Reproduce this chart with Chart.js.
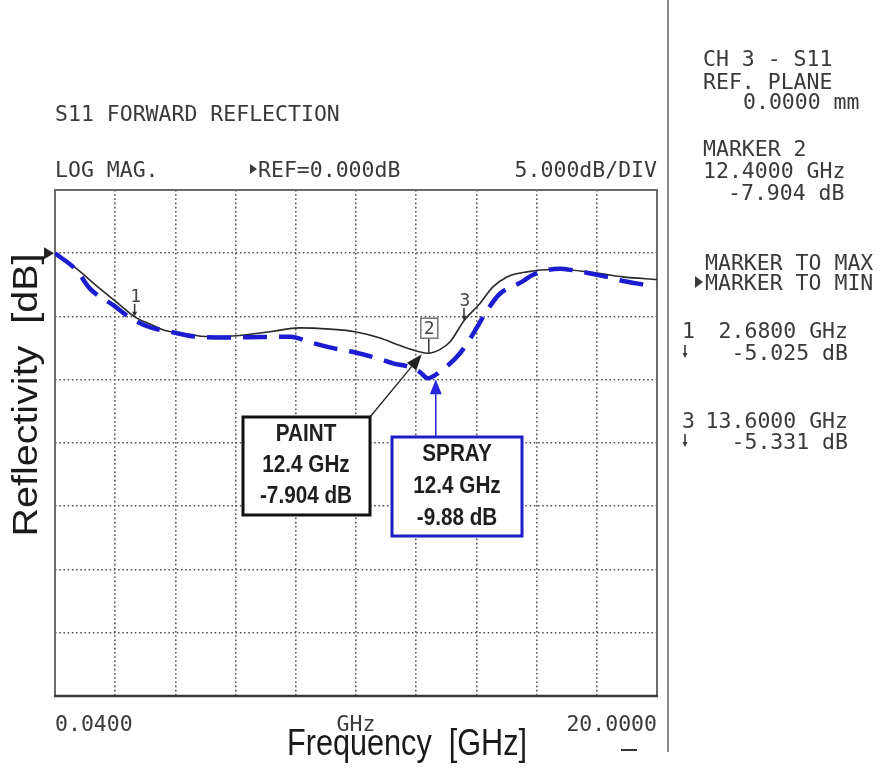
<!DOCTYPE html>
<html>
<head>
<meta charset="utf-8">
<script src="https://cdn.jsdelivr.net/npm/chart.js@4.4.0/dist/chart.umd.min.js"></script>
<style>
  html, body { margin: 0; padding: 0; background: #ffffff; }
  #wrap { width: 880px; height: 773px; position: relative; }
</style>
</head>
<body>
<div id="wrap"><canvas id="c" width="880" height="773"></canvas></div>
<script>
// Sweep and display scale of the analyzer screen
const freqStart = 0.04;      // GHz
const freqStop = 20.0;       // GHz
const xDivisions = 10;
const dbTop = 5;
const dbBottom = -35;
const dbPerDiv = 5;
const refLevel = 0;

// S11 of the painted sample (black trace)
const paintFreq = [0.04, 0.64, 1.53, 2.20, 2.68, 3.19, 3.69, 4.18, 5.18, 6.17,
                   7.17, 8.16, 9.16, 9.99, 10.82, 11.48, 12.14, 12.40, 12.81, 13.14,
                   13.60, 14.13, 14.56, 15.03, 15.69, 16.55, 17.21, 18.11, 18.87, 20.00];
const paintDb = [0.0, -1.0, -2.8, -4.1, -5.025, -5.6, -6.1, -6.3, -6.6, -6.5,
                 -6.2, -5.9, -6.0, -6.2, -6.7, -7.3, -7.8, -7.904, -7.6, -7.0,
                 -5.331, -3.97, -2.66, -1.87, -1.47, -1.29, -1.34, -1.6, -1.87, -2.08];

// S11 of the sprayed sample (blue dashed trace)
const sprayFreq = [0.04, 0.76, 1.20, 2.03, 2.47, 3.19, 3.85, 4.75, 5.78, 6.84,
                   7.83, 8.59, 9.26, 9.82, 10.72, 11.25, 11.80, 12.14, 12.40, 12.81,
                   13.47, 13.87, 14.40, 14.79, 15.29, 15.56, 15.89, 16.78, 17.21, 18.34,
                   18.77, 19.67];
const sprayDb = [0.0, -1.36, -2.8, -4.2, -5.0, -5.85, -6.2, -6.6, -6.66, -6.63,
                 -6.6, -7.1, -7.5, -7.75, -8.3, -8.7, -9.0, -9.4, -9.88, -9.35,
                 -7.9, -6.5, -4.4, -3.2, -2.55, -2.2, -1.7, -1.22, -1.34, -1.87,
                 -2.13, -2.53];

// Analyzer markers placed on the painted trace
const markerIds = ['1', '2', '3'];
const markerFreq = [2.68, 12.4, 13.6];
const markerDb = [-5.025, -7.904, -5.331];

// Callouts at the marker-2 frequency
const calloutFreq = 12.4;
const paintCalloutDb = -7.904;
const sprayCalloutDb = -9.88;

const MONO = '21.5px "DejaVu Sans Mono", "Liberation Mono", monospace';
const INK = '#3a3a3a';
const BLUE = 'rgb(28,28,208)';

function txt(ctx, s, x, y, o = {}) {
  ctx.save();
  ctx.font = o.font || MONO;
  ctx.fillStyle = o.color || INK;
  ctx.textBaseline = o.baseline || 'alphabetic';
  ctx.textAlign = 'left';
  const w = ctx.measureText(s).width;
  const sx = o.width ? o.width / w : (o.sx || 1);
  const sy = o.sy || 1;
  let x0 = x;
  if (o.align === 'center') x0 = x - w * sx / 2;
  else if (o.align === 'right') x0 = x - w * sx;
  ctx.translate(x0, y);
  ctx.scale(sx, sy);
  ctx.fillText(s, 0, 0);
  ctx.restore();
}

function triRight(ctx, xTip, yc, len, half, color) {
  ctx.save();
  ctx.fillStyle = color;
  ctx.beginPath();
  ctx.moveTo(xTip, yc);
  ctx.lineTo(xTip - len, yc - half);
  ctx.lineTo(xTip - len, yc + half);
  ctx.closePath();
  ctx.fill();
  ctx.restore();
}

function arrow(ctx, x1, y1, x2, y2, color, width, headLen, headHalf) {
  const a = Math.atan2(y2 - y1, x2 - x1);
  ctx.save();
  ctx.strokeStyle = color;
  ctx.fillStyle = color;
  ctx.lineWidth = width;
  ctx.beginPath();
  ctx.moveTo(x1, y1);
  ctx.lineTo(x2 - Math.cos(a) * headLen * 0.8, y2 - Math.sin(a) * headLen * 0.8);
  ctx.stroke();
  ctx.beginPath();
  ctx.moveTo(x2, y2);
  ctx.lineTo(x2 - Math.cos(a) * headLen - Math.sin(a) * headHalf, y2 - Math.sin(a) * headLen + Math.cos(a) * headHalf);
  ctx.lineTo(x2 - Math.cos(a) * headLen + Math.sin(a) * headHalf, y2 - Math.sin(a) * headLen - Math.cos(a) * headHalf);
  ctx.closePath();
  ctx.fill();
  ctx.restore();
}

function smallDown(ctx, x, yc) {
  ctx.save();
  ctx.strokeStyle = INK;
  ctx.fillStyle = INK;
  ctx.lineWidth = 1.6;
  ctx.beginPath();
  ctx.moveTo(x, yc - 7);
  ctx.lineTo(x, yc + 2);
  ctx.stroke();
  ctx.beginPath();
  ctx.moveTo(x - 2.5, yc + 1);
  ctx.lineTo(x + 2.5, yc + 1);
  ctx.lineTo(x, yc + 6);
  ctx.closePath();
  ctx.fill();
  ctx.restore();
}

function calloutBox(ctx, x, y, w, h, color, lines, lineYs, cx) {
  ctx.save();
  ctx.fillStyle = '#ffffff';
  ctx.fillRect(x, y, w, h);
  ctx.strokeStyle = color;
  ctx.lineWidth = 3;
  ctx.strokeRect(x, y, w, h);
  ctx.restore();
  lines.forEach((s, i) => {
    txt(ctx, s, cx, lineYs[i], { font: 'bold 23px "Liberation Sans", Arial, sans-serif', color: '#1e1e1e', align: 'center', sx: 0.9 });
  });
}

const screenPlugin = {
  id: 'screen',
  beforeDatasetsDraw(chart) {
    const { ctx, chartArea: a } = chart;
    ctx.save();
    ctx.strokeStyle = '#6a6a6a';
    ctx.lineWidth = 2;
    ctx.beginPath();
    ctx.moveTo(a.left, a.bottom);
    ctx.lineTo(a.left, a.top);
    ctx.lineTo(a.right, a.top);
    ctx.lineTo(a.right, a.bottom);
    ctx.stroke();
    ctx.strokeStyle = '#3a3a3a';
    ctx.lineWidth = 2.5;
    ctx.beginPath();
    ctx.moveTo(a.left - 1, a.bottom);
    ctx.lineTo(a.right + 1, a.bottom);
    ctx.stroke();
    ctx.restore();
  },
  afterDraw(chart) {
    const { ctx, chartArea: a } = chart;
    const xs = chart.scales.x, ys = chart.scales.y;

    // header lines
    txt(ctx, 'S11 FORWARD REFLECTION', 55, 121);
    txt(ctx, 'LOG MAG.', 55, 177);
    triRight(ctx, 257, 169, 7, 5, INK);
    txt(ctx, 'REF=' + refLevel.toFixed(3) + 'dB', 258, 177);
    txt(ctx, dbPerDiv.toFixed(3) + 'dB/DIV', a.right, 177, { align: 'right' });

    // reference level pointer
    triRight(ctx, a.left - 1, ys.getPixelForValue(refLevel), 10, 6, '#222');

    // frequency annotations
    txt(ctx, freqStart.toFixed(4), 55, 731);
    txt(ctx, 'GHz', 356, 731, { align: 'center' });
    txt(ctx, freqStop.toFixed(4), a.right, 731, { align: 'right' });

    // axis titles
    txt(ctx, 'Frequency  [GHz]', 407, 755, { font: '37px "Liberation Sans", Arial, sans-serif', color: '#1a1a1a', align: 'center', width: 240 });
    ctx.save();
    ctx.translate(37, 395);
    ctx.rotate(-Math.PI / 2);
    txt(ctx, 'Reflectivity  [dB]', 0, 0, { font: '35px "Liberation Sans", Arial, sans-serif', color: '#1a1a1a', align: 'center', width: 283 });
    ctx.restore();

    // short dash bottom right
    ctx.save();
    ctx.strokeStyle = '#333';
    ctx.lineWidth = 2;
    ctx.beginPath();
    ctx.moveTo(621, 750);
    ctx.lineTo(637, 750);
    ctx.stroke();
    // panel separator
    ctx.strokeStyle = '#8c8c8c';
    ctx.lineWidth = 2;
    ctx.beginPath();
    ctx.moveTo(668, 0);
    ctx.lineTo(668, 752);
    ctx.stroke();
    ctx.restore();

    // markers on the trace
    const mFont = '18px "DejaVu Sans Mono", monospace';
    markerIds.forEach((id, i) => {
      const px = xs.getPixelForValue(markerFreq[i]);
      const py = ys.getPixelForValue(markerDb[i]);
      ctx.save();
      ctx.strokeStyle = '#333';
      ctx.fillStyle = '#333';
      ctx.lineWidth = 1.5;
      if (id === '2') {
        ctx.beginPath();
        ctx.moveTo(px + 1, py - 16);
        ctx.lineTo(px + 1, py);
        ctx.stroke();
        ctx.fillStyle = '#ffffff';
        ctx.fillRect(px - 7, py - 35, 17, 20);
        ctx.strokeStyle = '#777';
        ctx.strokeRect(px - 7, py - 35, 17, 20);
        ctx.restore();
        txt(ctx, id, px + 1.5, py - 19, { font: mFont, color: '#444', align: 'center' });
      } else {
        ctx.beginPath();
        ctx.moveTo(px, py - 13);
        ctx.lineTo(px, py - 4);
        ctx.stroke();
        ctx.beginPath();
        ctx.moveTo(px - 2.5, py - 5);
        ctx.lineTo(px + 2.5, py - 5);
        ctx.lineTo(px, py);
        ctx.closePath();
        ctx.fill();
        ctx.restore();
        txt(ctx, id, px + 1, py - 15, { font: mFont, color: '#444', align: 'center' });
      }
    });

    // callouts
    const cx = xs.getPixelForValue(calloutFreq);
    const pY = ys.getPixelForValue(paintCalloutDb);
    const sY = ys.getPixelForValue(sprayCalloutDb);
    arrow(ctx, 370, 417, cx - 6, pY + 1, '#222', 1.3, 16, 6);
    arrow(ctx, cx + 8, 437, cx + 8, sY + 1, 'rgb(40,40,225)', 1.5, 15, 6);
    calloutBox(ctx, 243, 417, 127, 98, '#111', ['PAINT', calloutFreq + ' GHz', paintCalloutDb + ' dB'], [441, 472, 503], 306);
    calloutBox(ctx, 392, 437, 130, 99, 'rgb(30,30,200)', ['SPRAY', calloutFreq + ' GHz', sprayCalloutDb + ' dB'], [461, 493, 525], 457);

    // side panel readouts
    txt(ctx, 'CH 3 - S11', 703, 66);
    txt(ctx, 'REF. PLANE', 703, 89);
    txt(ctx, '0.0000 mm', 743, 109);
    txt(ctx, 'MARKER 2', 703, 156);
    txt(ctx, markerFreq[1].toFixed(4) + ' GHz', 703, 178);
    txt(ctx, markerDb[1].toFixed(3) + ' dB', 728, 200);
    txt(ctx, 'MARKER TO MAX', 705, 270);
    triRight(ctx, 703, 282, 8, 6, INK);
    txt(ctx, 'MARKER TO MIN', 705, 290);
    txt(ctx, markerIds[0], 682, 338);
    txt(ctx, markerFreq[0].toFixed(4) + ' GHz', 848, 338, { align: 'right' });
    smallDown(ctx, 685, 352);
    txt(ctx, markerDb[0].toFixed(3) + ' dB', 848, 360, { align: 'right' });
    txt(ctx, markerIds[2], 682, 428);
    txt(ctx, markerFreq[2].toFixed(4) + ' GHz', 848, 428, { align: 'right' });
    smallDown(ctx, 685, 441);
    txt(ctx, markerDb[2].toFixed(3) + ' dB', 848, 449, { align: 'right' });
  }
};

// dotted graticule
const gridStyle = { color: '#555555', lineWidth: 1.6, drawTicks: false, tickLength: 0 };
const borderStyle = { display: false, dash: [1.6, 2.6] };

new Chart(document.getElementById('c').getContext('2d'), {
  type: 'line',
  data: {
    datasets: [
      {
        label: 'SPRAY',
        data: sprayFreq.map((f, i) => ({ x: f, y: sprayDb[i] })),
        borderColor: BLUE,
        borderWidth: 4.5,
        borderDash: [24, 12],
        pointRadius: 0,
        fill: false,
        cubicInterpolationMode: 'monotone'
      },
      {
        label: 'PAINT',
        data: paintFreq.map((f, i) => ({ x: f, y: paintDb[i] })),
        borderColor: '#2a2a2a',
        borderWidth: 1.6,
        pointRadius: 0,
        fill: false,
        cubicInterpolationMode: 'monotone'
      }
    ]
  },
  options: {
    responsive: false,
    animation: false,
    devicePixelRatio: 1,
    layout: { padding: { left: 55, top: 190, right: 223, bottom: 77 } },
    plugins: { legend: { display: false }, tooltip: { enabled: false } },
    scales: {
      x: {
        type: 'linear',
        min: freqStart,
        max: freqStop,
        afterBuildTicks: (s) => {
          s.ticks = Array.from({ length: xDivisions + 1 }, (_, i) => ({ value: freqStart + i * (freqStop - freqStart) / xDivisions }));
        },
        ticks: { display: false },
        grid: gridStyle,
        border: borderStyle
      },
      y: {
        type: 'linear',
        min: dbBottom,
        max: dbTop,
        ticks: { display: false, stepSize: dbPerDiv },
        grid: gridStyle,
        border: borderStyle
      }
    }
  },
  plugins: [screenPlugin]
});
</script>
</body>
</html>
